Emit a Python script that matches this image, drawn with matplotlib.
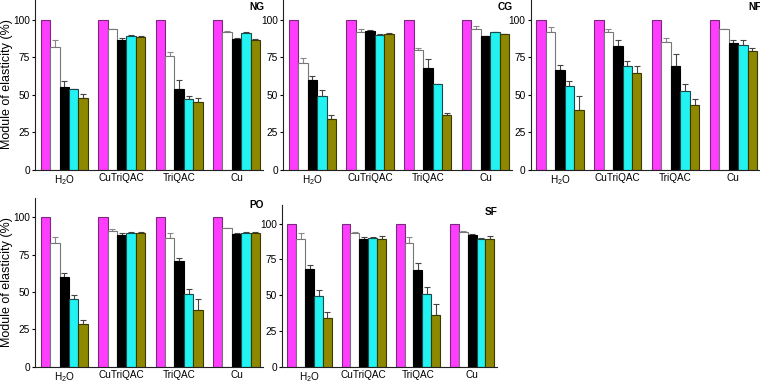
import matplotlib
matplotlib.use("Agg")
import matplotlib.pyplot as plt
import matplotlib.transforms as mtransforms
import numpy as np

plt.rcParams['font.family'] = ['Liberation Sans', 'DejaVu Sans']

categories = ['H$_\\mathregular{2}$O', 'CuTriQAC', 'TriQAC', 'Cu']
series_colors = ['#FF3DFF', '#FFFFFF', '#000000', '#22F2F2', '#8E8800']
series_edges = ['#7A2A7A', '#777777', '#000000', '#1A4A4A', '#3A3A00']
err_colors = ['#555555', '#888888', '#444444', '#444444', '#444444']

# values[series][category]; series order: magenta, white, black, cyan, olive
NG_vals = [[100, 100, 100, 100],
           [81.5, 93.5, 75.5, 91.7],
           [55.4, 86.6, 53.6, 87.3],
           [53.6, 88.8, 47.2, 90.8],
           [47.8, 88.6, 45.0, 86.6]]
NG_err = [[0, 0, 0, 0],
          [5.0, 0.5, 3.0, 0.9],
          [4.0, 1.0, 6.4, 0.4],
          [0.5, 0.7, 2.2, 1.1],
          [2.5, 0.7, 2.6, 0.6]]

CG_vals = [[100, 100, 100, 100],
           [71.1, 92.0, 79.9, 93.8],
           [59.6, 92.5, 67.9, 88.9],
           [48.9, 89.6, 56.9, 91.4],
           [33.8, 90.5, 36.5, 90.3]]
CG_err = [[0, 0, 0, 0],
          [3.5, 1.4, 1.5, 2.0],
          [2.6, 0.3, 5.6, 0.5],
          [4.2, 1.1, 0.5, 0.6],
          [2.7, 0.5, 1.3, 0.4]]

NF_vals = [[100, 100, 100, 100],
           [91.4, 91.8, 85.4, 93.4],
           [66.8, 82.3, 69.0, 84.5],
           [55.8, 69.2, 52.4, 83.2],
           [39.8, 64.2, 43.4, 78.8]]
NF_err = [[0, 0, 0, 0],
          [3.7, 1.6, 2.2, 0.6],
          [3.3, 3.8, 8.4, 1.8],
          [3.3, 3.4, 4.5, 3.5],
          [9.5, 5.0, 3.5, 2.0]]

PO_vals = [[100, 100, 100, 100],
           [82.8, 91.1, 86.4, 92.6],
           [60.0, 88.2, 70.8, 88.8],
           [45.1, 89.5, 48.4, 89.5],
           [28.3, 89.7, 37.7, 89.7]]
PO_err = [[0, 0, 0, 0],
          [4.3, 1.3, 2.9, 0.6],
          [2.5, 1.3, 1.7, 0.5],
          [2.9, 0.9, 3.4, 0.5],
          [3.0, 0.5, 7.4, 0.4]]

SF_vals = [[100, 100, 100, 100],
           [89.3, 93.5, 86.2, 94.4],
           [68.5, 89.0, 67.5, 91.8],
           [49.3, 90.0, 50.7, 89.5],
           [34.1, 89.3, 36.4, 89.3]]
SF_err = [[0, 0, 0, 0],
          [4.2, 0.9, 4.5, 0.5],
          [2.5, 1.7, 5.2, 1.0],
          [4.4, 0.7, 4.9, 0.7],
          [4.0, 2.1, 7.3, 2.1]]

yticks = [0, 25, 50, 75, 100]

W, H = 760, 383
fig = plt.figure(figsize=(W / 100, H / 100), dpi=100)

# (name, values, errors, left_px, right_px, top_px, bottom_px)
panels = [
    ('NG', NG_vals, NG_err, 35, 263, 0, 170),
    ('CG', CG_vals, CG_err, 283, 512, 0, 170),
    ('NF', NF_vals, NF_err, 530.5, 760, 0, 170),
    ('PO', PO_vals, PO_err, 35, 263, 198, 366.7),
    ('SF', SF_vals, SF_err, 282, 497, 205, 366.7),
]

bw = 0.164
x = np.arange(len(categories))
for name, vals, errs, l, r, t, b in panels:
    ax = fig.add_axes([l / W, (H - b) / H, (r - l) / W, (b - t) / H])
    for i in range(5):
        pos = x + (i - 2) * bw
        ax.bar(pos, vals[i], width=bw, color=series_colors[i],
               edgecolor=series_edges[i], linewidth=0.8, zorder=2)
        e = np.array(errs[i])
        if i > 0:
            ax.errorbar(pos, vals[i], yerr=[np.zeros_like(e), e], fmt='none',
                        ecolor=err_colors[i], elinewidth=0.8, capsize=2,
                        capthick=0.8, zorder=1)
    ax.set_xlim(-0.51, 3.46)
    ax.set_ylim(0, 113)
    ax.set_yticks(yticks)
    ax.set_xticks(x)
    ax.set_xticklabels(categories, fontsize=7.2)
    ax.tick_params(axis='y', labelsize=7.3, length=2.5, width=0.8, pad=1)
    ax.tick_params(axis='x', length=0, pad=2.5)
    for s in ['top', 'right']:
        ax.spines[s].set_visible(False)
    for s in ['left', 'bottom']:
        ax.spines[s].set_linewidth(0.8)
        ax.spines[s].set_color('#222222')
    trans = mtransforms.blended_transform_factory(ax.transAxes, ax.transData)
    ax.text(1.005, 108.3, name, transform=trans, ha='right', va='center',
            fontsize=7.3, fontweight='bold')

fig.text(7 / W, (H - 84) / H, 'Module of elasticity (%)', rotation=90,
         ha='center', va='center', fontsize=9)
fig.text(7 / W, (H - 282) / H, 'Module of elasticity (%)', rotation=90,
         ha='center', va='center', fontsize=9)

fig.savefig('out.png', dpi=100)
